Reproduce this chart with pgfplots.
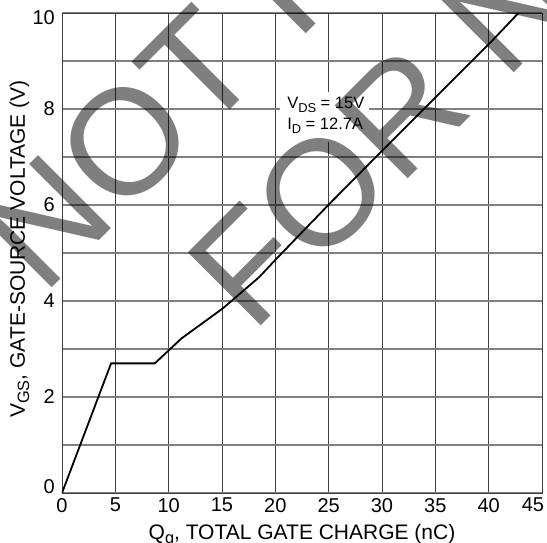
\documentclass[border=0pt]{standalone}
\usepackage{fontspec}
\setmainfont{Liberation Sans}
\usepackage{graphicx}
\usepackage{pgfplots}
\pgfplotsset{compat=1.18}
\newcommand{\sub}[1]{\raisebox{-0.2em}{\scalebox{0.78}{#1}}}

\begin{document}
\begin{tikzpicture}
\begin{axis}[
  scale only axis,
  width=480pt, height=480pt,
  xmin=0, xmax=45, ymin=0, ymax=10,
  xtick={0,5,...,45},
  xticklabels={0,5,10,15,20,25,30,35,40,\kern-9pt 45\kern9pt},
  ytick={0,2,...,10},
  yticklabels={\raisebox{6pt}[\height][\depth]{0},2,4,6,8,\raisebox{-5pt}[\height][\depth]{10}},
  minor ytick={1,3,...,9},
  xmajorgrids, ymajorgrids, yminorgrids,
  major x grid style={black!75, line width=0.8pt},
  major y grid style={black!50, line width=1.1pt},
  minor y grid style={black!50, line width=1.1pt},
  axis line style={black!75, line width=0.9pt},
  major tick length=0pt, minor tick length=0pt,
  tick label style={font=\fontsize{20}{24}\selectfont},
  xticklabel style={inner sep=0pt, yshift=-5pt},
  yticklabel style={inner sep=0pt, xshift=-7pt},
  every axis x label/.style={at={(axis description cs:0.5,-0.0973)}, anchor=base},
  every axis y label/.style={at={(axis description cs:-0.0771,0.508)}, rotate=90, anchor=base},
  label style={font=\fontsize{21}{25}\selectfont},
  xlabel={Q\sub{g}, TOTAL GATE CHARGE (nC)},
  ylabel={V\sub{GS}, GATE-SOURCE VOLTAGE (V)},
]
\addplot[black, line width=1.8pt] coordinates {
  (0,0) (4.6,2.7) (8.7,2.7) (11.2,3.22) (15.1,3.85) (18.5,4.5)
  (20.1,4.88) (25.1,6.03) (30.1,7.15) (35.1,8.26) (40.1,9.37) (42.8,10.0)
};
\fill[white] (axis cs:20.44,7.31) rectangle (axis cs:28.78,8.35);
\node[anchor=base west, inner sep=0pt, font=\fontsize{16.5}{20}\selectfont]
  at (axis cs:21.1,8) {V\sub{DS} = 15V};
\node[anchor=base west, inner sep=0pt, font=\fontsize{16.5}{20}\selectfont]
  at (axis cs:21.1,7.5625) {I\sub{D} = 12.7A};
\end{axis}
% watermark
\begin{scope}[overlay, opacity=0.5]
\node[rotate=45, anchor=base, inner sep=0pt, font=\fontsize{150}{180}\selectfont]
  at (535.7pt,750.7pt) {NOT RECOMMENDED};
\node[rotate=45, anchor=base, inner sep=0pt, font=\fontsize{150}{180}\selectfont]
  at (658.5pt,626.5pt) {FOR NEW DESIGN};
\end{scope}
\pgfresetboundingbox
\useasboundingbox (-62pt,-50pt) rectangle (485pt,493pt);
\end{tikzpicture}
\end{document}
